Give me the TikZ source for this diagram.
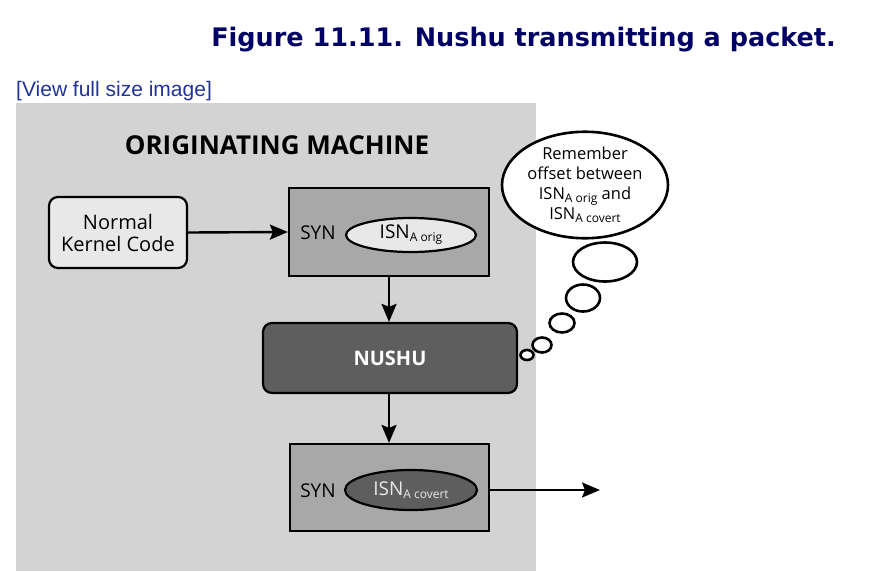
\documentclass[tikz,border=0pt]{standalone}
\usepackage{fontspec}
\setmainfont{Open Sans}
\newfontfamily\titlefont{DejaVu Sans}
\newfontfamily\linkfont{Liberation Sans}
\usetikzlibrary{shapes.geometric,arrows.meta}
\definecolor{titleblue}{RGB}{0,0,102}
\definecolor{linkblue}{RGB}{34,51,153}
\definecolor{bggray}{RGB}{211,211,211}
\definecolor{lightfill}{RGB}{232,232,232}
\definecolor{synfill}{RGB}{168,168,168}
\definecolor{darkfill}{RGB}{94,94,94}
\newcommand{\subtx}[1]{\raisebox{-0.3ex}{\fontsize{12}{12}\selectfont #1}}
\tikzset{
  outl/.style={draw=black, line width=2.2pt},
  kbox/.style={outl, rounded corners=9pt, fill=lightfill, align=center, font=\fontsize{20}{21}\selectfont, inner sep=0pt},
  synbox/.style={outl, fill=synfill, inner sep=0pt},
  nbox/.style={outl, rounded corners=9pt, fill=darkfill, inner sep=0pt, text=white, font=\fontsize{20}{20}\selectfont\bfseries},
  isn/.style={outl, ellipse, inner sep=0pt, font=\fontsize{19}{19}\selectfont},
  bub/.style={draw=black, line width=2.6pt, ellipse, inner sep=0pt, fill=white},
  arr/.style={line width=2.4pt, -{Stealth[length=18pt,width=15pt,inset=3pt]}},
  lbl/.style={inner sep=0pt, font=\fontsize{19}{19}\selectfont}
}
\begin{document}
\begin{tikzpicture}[x=1pt,y=-1pt]
\useasboundingbox (0,0) rectangle (880,571);
\fill[white] (0,0) rectangle (880,571);
\node[anchor=base east, inner sep=0pt, text=titleblue, font=\titlefont\bfseries\fontsize{25.5}{25.5}\selectfont] (title) at (836,46) {Figure 11.11. Nushu transmitting a packet.};
\node[anchor=base west, inner sep=0pt, text=linkblue, font=\linkfont\fontsize{21}{21}\selectfont] (link) at (16,96) {[View full size image]};
\fill[bggray] (16,103) rectangle (536,571);
\node[inner sep=0pt, font=\fontsize{26}{26}\selectfont\bfseries] (om) at (277,145) {ORIGINATING MACHINE};
\node[kbox, minimum width=138pt, minimum height=71pt] (nkc) at (118,232.5) {Normal\\[1pt]Kernel Code};
\node[synbox, minimum width=200pt, minimum height=88pt] (syn1) at (389,232) {};
\node[lbl] (s1) at (318,233) {SYN};
\node[isn, fill=lightfill, minimum width=130pt, minimum height=34pt] (e1) at (411,235) {ISN\subtx{A orig}};
\node[nbox, minimum width=254pt, minimum height=70pt] (nushu) at (390,358) {NUSHU};
\node[synbox, minimum width=199pt, minimum height=87pt] (syn2) at (389.5,487.5) {};
\node[lbl] (s2) at (318,491) {SYN};
\node[isn, fill=darkfill, text=lightfill, minimum width=132pt, minimum height=40pt] (e2) at (411,490) {ISN\subtx{A covert}};
\coordinate (out) at (600,490);
\draw[arr] (nkc.east) -- (syn1.west);
\draw[arr] (syn1.south -| 389,0) -- (nushu.north -| 389,0);
\draw[arr] (nushu.south -| 389,0) -- (syn2.north -| 389,0);
\draw[arr] (syn2.east |- out) -- (out);
\node[bub, minimum width=166pt, minimum height=106pt, align=center, font=\fontsize{16.5}{20}\selectfont] (th) at (585,185) {Remember\\offset between\\ISN\subtx{A orig} and\\ISN\subtx{A covert}};
\node[bub, minimum width=64pt, minimum height=39pt] (b1) at (605,262) {};
\node[bub, minimum width=34pt, minimum height=27pt] (b2) at (583,298) {};
\node[bub, minimum width=25pt, minimum height=19pt] (b3) at (562,323) {};
\node[bub, minimum width=19pt, minimum height=15pt] (b4) at (542,345) {};
\node[bub, minimum width=13pt, minimum height=10pt] (b5) at (527,355) {};
\end{tikzpicture}
\end{document}
